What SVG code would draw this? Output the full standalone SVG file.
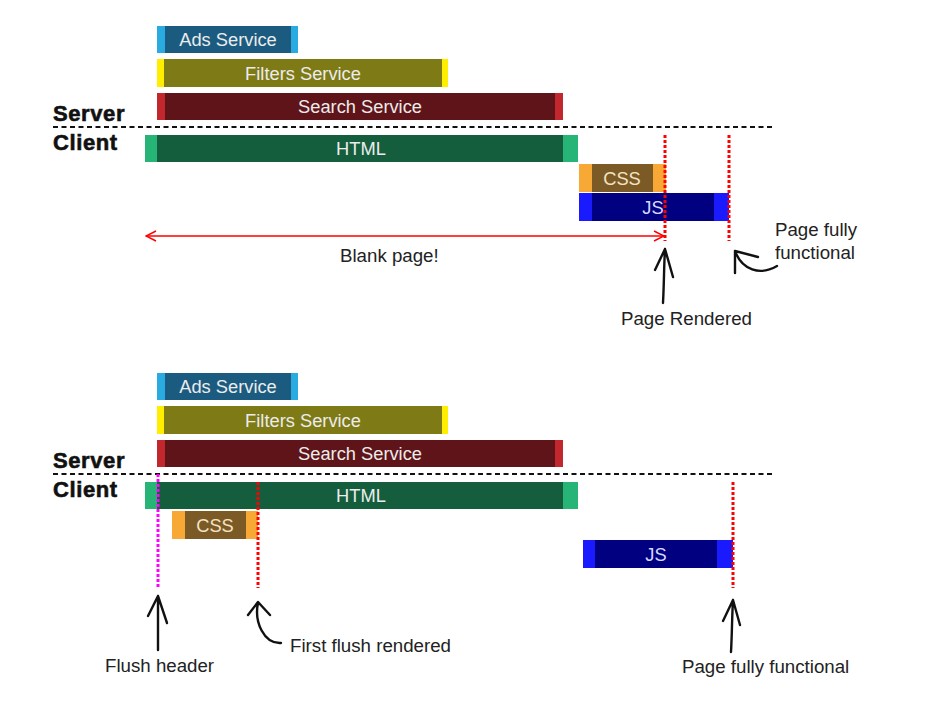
<svg xmlns="http://www.w3.org/2000/svg" width="926" height="708" viewBox="0 0 926 708">
<defs>
<style>
.lbl{font-family:"Liberation Sans",Arial,sans-serif;font-size:18.3px;fill:#ececec;text-anchor:middle}
.txt{font-family:"Liberation Sans",Arial,sans-serif;font-size:18.7px;fill:#222}
.side{font-family:"Liberation Sans",Arial,sans-serif;font-size:22px;font-weight:bold;fill:#111;letter-spacing:0.6px;stroke:#111;stroke-width:0.6px}
.divider{stroke:#111;stroke-width:2;stroke-dasharray:5 3.5;fill:none}
.red{stroke:#ff0000;stroke-width:3;stroke-dasharray:3 2;fill:none}
.mag{stroke:#ff00ff;stroke-width:3;stroke-dasharray:3 2;fill:none}
.hand{stroke:#111;stroke-width:2.4;fill:none;stroke-linecap:round;stroke-linejoin:round}
</style>
<marker id="open" viewBox="0 0 12 12" refX="11" refY="6" markerWidth="12" markerHeight="12" markerUnits="userSpaceOnUse" orient="auto-start-reverse">
<path d="M1 1 L11 6 L1 11" fill="none" stroke="#ff0000" stroke-width="1.4"/>
</marker>
</defs>
<rect width="926" height="708" fill="#fff"/>

<!-- TOP SECTION -->
<g id="top-ads">
<rect x="157" y="26" width="141" height="27" fill="#29abe2"/>
<rect x="165" y="26" width="126" height="27" fill="#1b5b80"/>
<text class="lbl" x="228" y="46">Ads Service</text>
</g>
<g id="top-filters">
<rect x="157" y="59" width="291" height="28" fill="#ffee00"/>
<rect x="164" y="59" width="278" height="28" fill="#7e7a16"/>
<text class="lbl" x="303" y="79.5">Filters Service</text>
</g>
<g id="top-search">
<rect x="157" y="93" width="406" height="27" fill="#c1272d"/>
<rect x="165" y="93" width="390" height="27" fill="#5f1419"/>
<text class="lbl" x="360" y="113">Search Service</text>
</g>
<g id="top-labels">
<text class="side" x="53" y="121">Server</text>
<text class="side" x="53" y="150">Client</text>
</g>
<g id="top-html">
<rect x="145" y="135" width="433" height="27" fill="#26b576"/>
<rect x="157" y="135" width="406" height="27" fill="#145e3d"/>
<text class="lbl" x="361" y="155">HTML</text>
</g>
<g id="top-css">
<rect x="579" y="164" width="87" height="28" fill="#f8a834"/>
<rect x="592" y="164" width="61" height="28" fill="#7b5a26"/>
<text class="lbl" x="622" y="184.5" style="fill:#f3e3c4">CSS</text>
</g>
<g id="top-js">
<rect x="579" y="193" width="150" height="28" fill="#1a1aff"/>
<rect x="592" y="193" width="122" height="28" fill="#000080"/>
<text class="lbl" x="653" y="213.5" style="fill:#d8d8ff">JS</text>
</g>

<!-- BOTTOM SECTION -->
<g id="bot-ads">
<rect x="157" y="373" width="141" height="27" fill="#29abe2"/>
<rect x="165" y="373" width="126" height="27" fill="#1b5b80"/>
<text class="lbl" x="228" y="393">Ads Service</text>
</g>
<g id="bot-filters">
<rect x="157" y="406" width="291" height="28" fill="#ffee00"/>
<rect x="164" y="406" width="278" height="28" fill="#7e7a16"/>
<text class="lbl" x="303" y="426.5">Filters Service</text>
</g>
<g id="bot-search">
<rect x="157" y="440" width="406" height="27" fill="#c1272d"/>
<rect x="165" y="440" width="390" height="27" fill="#5f1419"/>
<text class="lbl" x="360" y="460">Search Service</text>
</g>
<g id="bot-labels">
<text class="side" x="53" y="468">Server</text>
<text class="side" x="53" y="497">Client</text>
</g>
<g id="bot-html">
<rect x="145" y="482" width="433" height="27" fill="#26b576"/>
<rect x="157" y="482" width="406" height="27" fill="#145e3d"/>
<text class="lbl" x="361" y="502">HTML</text>
</g>
<g id="bot-css">
<rect x="172" y="511" width="86" height="28" fill="#f8a834"/>
<rect x="185" y="511" width="61" height="28" fill="#7b5a26"/>
<text class="lbl" x="215" y="531.5" style="fill:#f3e3c4">CSS</text>
</g>
<g id="bot-js">
<rect x="583" y="540" width="150" height="28" fill="#1a1aff"/>
<rect x="595" y="540" width="122" height="28" fill="#000080"/>
<text class="lbl" x="656" y="560.5" style="fill:#d8d8ff">JS</text>
</g>

<g id="connectors">
<line class="divider" x1="53" y1="127" x2="775" y2="127"/>
<line class="divider" x1="53" y1="474" x2="775" y2="474"/>
<line class="red" x1="665" y1="135" x2="665" y2="241"/>
<line class="red" x1="729" y1="135" x2="729" y2="241"/>
<line x1="146" y1="236" x2="664" y2="236" stroke="#ff0000" stroke-width="1.3" marker-start="url(#open)" marker-end="url(#open)"/>
<line class="mag" x1="158" y1="474" x2="158" y2="588"/>
<line class="red" x1="258" y1="482" x2="258" y2="588"/>
<line class="red" x1="733" y1="482" x2="733" y2="588"/>
<!-- hand-drawn arrows -->
<path class="hand" d="M663 303 C664 285 664 265 665 249 M655 270 L665 249 L673 277"/>
<path class="hand" d="M777 266 C760 276 742 270 735 251 M735 273 L735 251 L758 257"/>
<path class="hand" d="M158 650 C158 632 158 612 158 596 M148 616 L158 596 L167 623"/>
<path class="hand" d="M258 603 C254 622 264 644 281 643 M248 615 L258 602 L270 615"/>
<path class="hand" d="M731 652 C732 635 732 616 733 600 M723 621 L733 600 L740 625"/>
</g>

<g id="annotations">
<text class="txt" x="340" y="262">Blank page!</text>
<text class="txt" x="775" y="236">Page fully</text>
<text class="txt" x="775" y="259">functional</text>
<text class="txt" x="621" y="325">Page Rendered</text>
<text class="txt" x="105" y="672">Flush header</text>
<text class="txt" x="290" y="652">First flush rendered</text>
<text class="txt" x="682" y="673">Page fully functional</text>
</g>
</svg>
